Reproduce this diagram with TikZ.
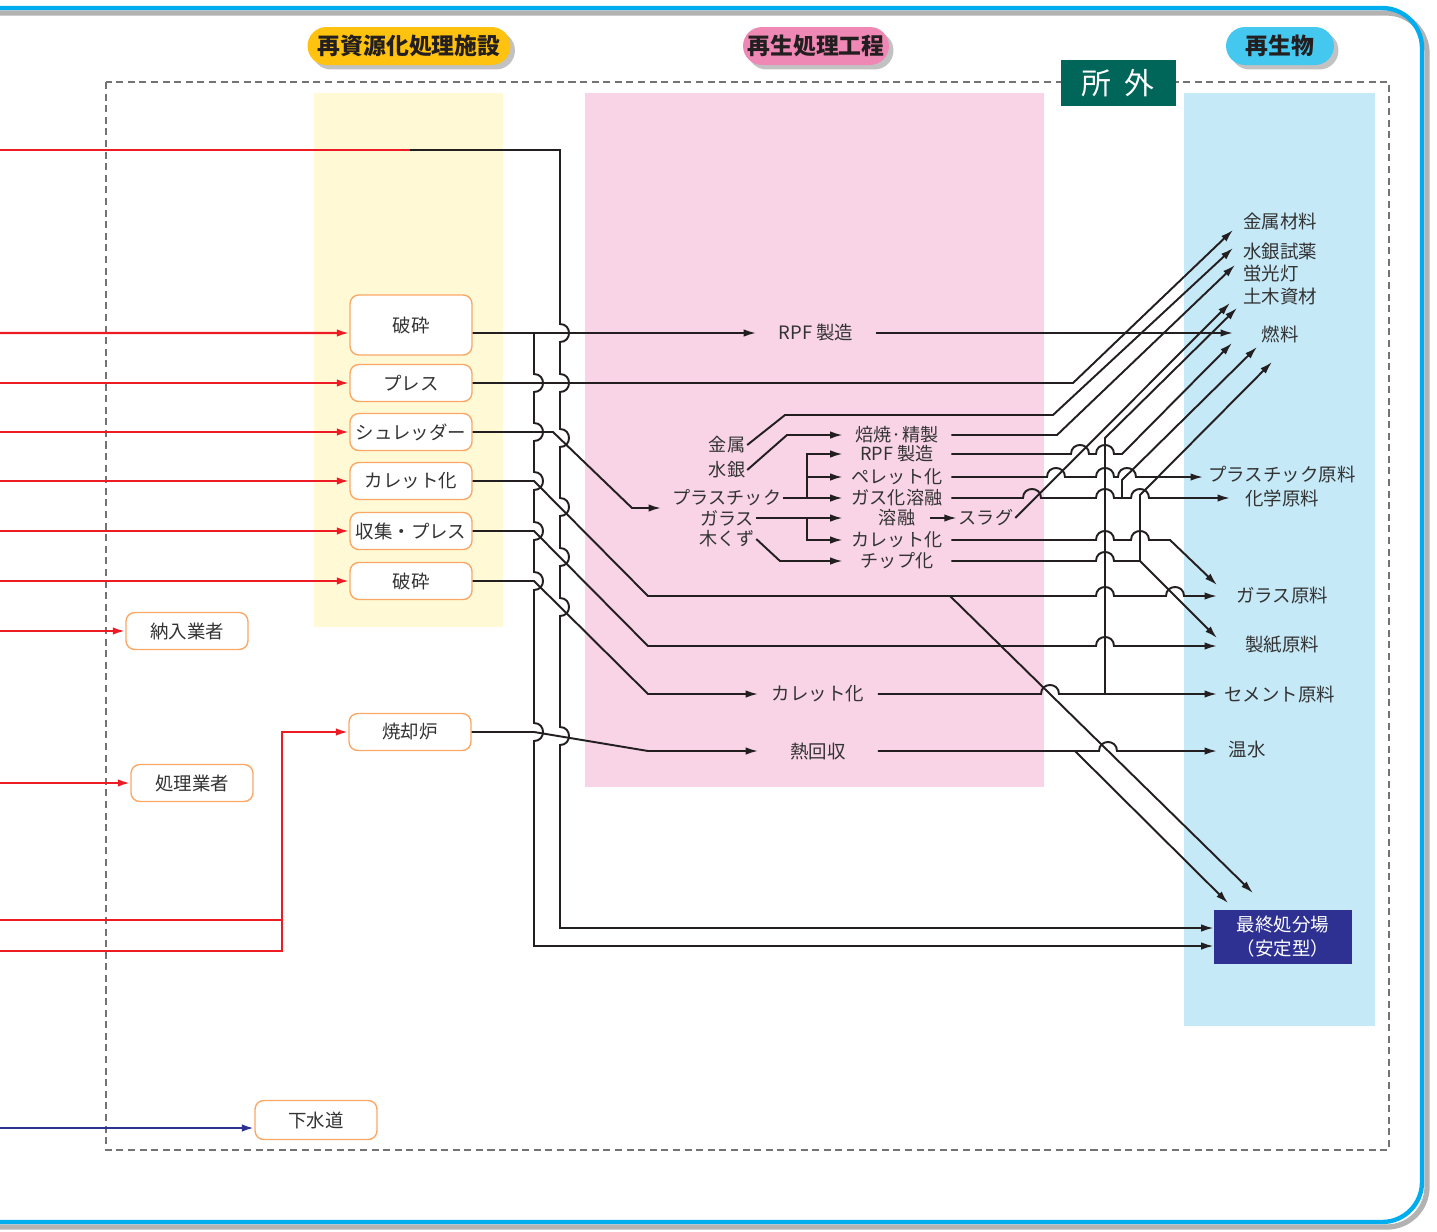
\documentclass[tikz,border=0pt]{standalone}
\usepackage{fontspec}
\setmainfont{Noto Sans CJK JP}
\usetikzlibrary{arrows.meta,shapes.misc,shadows}
\definecolor{inkblk}{HTML}{231F20}
\definecolor{txtgrey}{HTML}{333333}
\definecolor{redln}{HTML}{ED1C24}
\definecolor{navyln}{HTML}{2E3192}
\definecolor{boxorange}{HTML}{F9A866}
\definecolor{paleyellow}{HTML}{FFF9D6}
\definecolor{palepink}{HTML}{F8D4E6}
\definecolor{paleblue}{HTML}{C6E9F8}
\definecolor{pillyellow}{HTML}{FFC20E}
\definecolor{pillpink}{HTML}{F088B5}
\definecolor{pillcyan}{HTML}{45C8F0}
\definecolor{framecyan}{HTML}{00AEEF}
\definecolor{darkteal}{HTML}{00665A}
\newcommand{\vjmp}[2]{-- (#1,#2-9) .. controls (#1+12,#2-9) and (#1+12,#2+9) .. (#1,#2+9)}
\newcommand{\hjmp}[2]{-- (#1-9,#2) .. controls (#1-9,#2-12) and (#1+9,#2-12) .. (#1+9,#2)}

\begin{document}
\begin{tikzpicture}[x=0.02cm,y=-0.02cm,
  flow/.style={draw=inkblk, line width=1.1pt},
  flowarr/.style={flow, -{Latex[length=2.5mm,width=1.5mm]}},
  redflow/.style={draw=redln, line width=1.3pt},
  redarr/.style={redflow, -{Latex[length=2.5mm,width=1.5mm]}},
  srcbox/.style={rectangle, draw=boxorange, line width=0.8pt, rounded corners=5pt, fill=white, minimum width=2.44cm, minimum height=0.74cm, inner sep=1pt, font=\fontsize{10.5}{12}\selectfont, text=txtgrey},
  steplbl/.style={inner sep=0pt, minimum width=2.38cm, font=\fontsize{10.5}{12}\selectfont, text=txtgrey},
  midlbl/.style={inner sep=0pt, minimum width=2.16cm, font=\fontsize{10.3}{12}\selectfont, text=txtgrey},
  srclbl/.style={inner sep=1pt, font=\fontsize{10.3}{12}\selectfont, text=txtgrey},
  outlbl/.style={inner sep=1pt, font=\fontsize{10.5}{12}\selectfont, text=txtgrey},
  pill/.style={rounded rectangle, minimum height=0.76cm, inner sep=2pt, font=\fontsize{13}{15}\selectfont\bfseries, text=inkblk, drop shadow={shadow xshift=0.09cm, shadow yshift=-0.09cm, fill=black!40, opacity=0.6}}]
\useasboundingbox (0,0) rectangle (1437,1231);

% outer frame
\draw[line width=3pt, draw=black!30, xshift=0.1cm, yshift=-0.1cm, rounded corners=0.8cm] (-20,8) -- (1422,8) -- (1422,1222) -- (-20,1222);
\draw[line width=2.5pt, draw=framecyan, rounded corners=0.8cm] (-20,8) -- (1422,8) -- (1422,1222) -- (-20,1222);

% panels
\fill[paleyellow] (314,93) rectangle (503,627);
\fill[palepink] (585,93) rectangle (1044,787);
\fill[paleblue] (1184,93) rectangle (1375,1026);
\draw[black!55, line width=0.9pt, dash pattern=on 4pt off 2.6pt] (106,82) rectangle (1389,1150);

% titles
\node[pill, fill=pillyellow, minimum width=4.2cm] (ttlfacility) at (409,46) {再資源化処理施設};
\node[pill, fill=pillpink, minimum width=3.06cm] (ttlprocess) at (816,46) {再生処理工程};
\node[pill, fill=pillcyan, minimum width=2.3cm] (ttlproduct) at (1280,46) {再生物};
\node[fill=darkteal, text=white, minimum width=2.3cm, minimum height=0.92cm, font=\fontsize{17}{20}\selectfont] (offsite) at (1118,83) {所\hspace{0.45em}外};

% boxes
\node[srcbox, minimum height=1.2cm] (crushA) at (411,325) {破砕};
\node[srcbox] (press) at (411,383) {プレス};
\node[srcbox] (shredder) at (411,432) {シュレッダー};
\node[srcbox] (culletA) at (411,481) {カレット化};
\node[srcbox] (collect) at (411,531) {収集・プレス};
\node[srcbox] (crushB) at (411,581) {破砕};
\node[srcbox] (supplier) at (187,631) {納入業者};
\node[srcbox] (kiln) at (410,732) {焼却炉};
\node[srcbox] (handler) at (192,783) {処理業者};
\node[srcbox, minimum height=0.78cm] (sewer) at (316,1120) {下水道};

\node[steplbl] (rpfA) at (816,333) {RPF 製造};
\node[steplbl] (culletB) at (818,694) {カレット化};
\node[steplbl] (heat) at (818,751) {熱回収};

\node[srclbl] (metal) at (727,445) {金属};
\node[srclbl] (mercury) at (727,470) {水銀};
\node[srclbl] (plastic) at (727,498) {プラスチック};
\node[srclbl] (glass) at (727,518) {ガラス};
\node[srclbl] (wood) at (727,539) {木くず};

\node[midlbl] (roast) at (897,435) {焙焼·精製};
\node[midlbl] (rpfB) at (897,454) {RPF 製造};
\node[midlbl] (pellet) at (897,477) {ペレット化};
\node[midlbl] (gasify) at (897,498) {ガス化溶融};
\node[midlbl] (melt) at (897,518) {溶融};
\node[srclbl] (slag) at (986,518) {スラグ};
\node[midlbl] (culletC) at (897,540) {カレット化};
\node[midlbl] (chip) at (897,561) {チップ化};

\node[outlbl, anchor=west] (metalmat) at (1241,221) {金属材料};
\node[outlbl, anchor=west] (hgreagent) at (1241,252) {水銀試薬};
\node[outlbl, anchor=west] (fluor) at (1241,274) {蛍光灯};
\node[outlbl, anchor=west] (civil) at (1241,297) {土木資材};
\node[outlbl] (fuel) at (1280,334) {燃料};
\node[outlbl] (plasraw) at (1282,474) {プラスチック原料};
\node[outlbl] (chemraw) at (1282,498) {化学原料};
\node[outlbl] (glassraw) at (1282,595) {ガラス原料};
\node[outlbl] (paperraw) at (1282,645) {製紙原料};
\node[outlbl] (cemraw) at (1280,694) {セメント原料};
\node[outlbl] (hotwater) at (1247,750) {温水};
\node[fill=navyln, text=white, minimum width=2.76cm, minimum height=1.08cm, align=center, inner sep=1pt, font=\fontsize{10.5}{13.6}\selectfont] (final) at (1283,937) {最終処分場\\（安定型）};

% free ends
\coordinate (topjoin) at (410,150);
\coordinate (tsort) at (661,508);
\coordinate (tmetal) at (1233,230);
\coordinate (thg) at (1233,248);
\coordinate (tfluor) at (1235,265);
\coordinate (tcivilA) at (1230,303);
\coordinate (tcivilB) at (1237,308);
\coordinate (tfuelH) at (1233,333);
\coordinate (tfuelA) at (1232,343);
\coordinate (tfuelB) at (1257,347);
\coordinate (tfuelC) at (1272,362);
\coordinate (tplastic) at (1203,477);
\coordinate (tchem) at (1230,498);
\coordinate (tglassA) at (1217,596);
\coordinate (tglassB) at (1217,585);
\coordinate (tpaperA) at (1217,646);
\coordinate (tpaperB) at (1217,638);
\coordinate (tcement) at (1217,694);
\coordinate (twater) at (1217,751);
\coordinate (tlandA) at (1253,893);
\coordinate (tlandB) at (1228,903);

% inputs
\draw[redflow] (0,150) -- (topjoin);
\draw[redarr] (0,333) -- ([yshift=-0.16cm]crushA.west);
\draw[redarr] (0,383) -- (press.west);
\draw[redarr] (0,432) -- (shredder.west);
\draw[redarr] (0,481) -- (culletA.west);
\draw[redarr] (0,531) -- (collect.west);
\draw[redarr] (0,581) -- (crushB.west);
\draw[redarr] (0,631) -- (supplier.west);
\draw[redarr] (0,783) -- (handler.west);
\draw[redflow] (0,920) -- (282,920);
\draw[redarr] (0,951) -- (282,951) -- (282,732) -- (kiln.west);
\draw[draw=navyln, line width=1.3pt, -{Latex[length=2.5mm,width=1.5mm]}] (0,1128) -- (sewer.west |- 0,1128);

% facility outputs
\draw[flowarr] (topjoin) -- (560,150) \vjmp{560}{333} \vjmp{560}{383} \vjmp{560}{438} \vjmp{560}{507} \vjmp{560}{557} \vjmp{560}{607} \vjmp{560}{736} -- (560,928) -- (final.west |- 0,928);
\draw[flowarr] (534,333) \vjmp{534}{383} \vjmp{534}{432} \vjmp{534}{481} \vjmp{534}{531} \vjmp{534}{581} \vjmp{534}{732} -- (534,946) -- (final.west |- 0,946);
\draw[flowarr] ([yshift=-0.16cm]crushA.east) -- (rpfA.west);
\draw[flowarr] (rpfA.east) -- (tfuelH);
\draw[flowarr] (press.east) -- (1073,383) -- (tmetal);
\draw[flowarr] (shredder.east) -- (553,432) -- (632,508) -- (tsort);
\draw[flowarr] (culletA.east) -- (534,481) -- (648,596) \hjmp{1105}{596} \hjmp{1175}{596} -- (tglassA);
\draw[flowarr] (collect.east) -- (534,531) -- (648,646) \hjmp{1105}{646} -- (tpaperA);
\draw[flowarr] (crushB.east) -- (534,581) -- (648,694) -- (culletB.west);
\draw[flowarr] (kiln.east) -- (534,732) -- (648,751) -- (heat.west);

% sorting group
\draw[flowarr] (metal.east) -- (785,415) -- (1053,415) -- (thg);
\draw[flowarr] (mercury.east) -- (787,435) -- (roast.west);
\draw[flowarr] (roast.east) -- (1057,435) -- (tfluor);
\draw[flow] (plastic.east) -- (807,498);
\draw[flowarr] (807,498) -- (gasify.west);
\draw[flowarr] (807,498) |- (rpfB.west);
\draw[flowarr] (807,477) -- (pellet.west);
\draw[flowarr] (glass.east) -- (melt.west);
\draw[flowarr] (807,518) |- (culletC.west);
\draw[flowarr] (wood.east) -- (780,561) -- (chip.west);
\draw[flowarr] ([xshift=-0.42cm]melt.east) -- (slag.west);

% to products
\draw[flowarr] (rpfB.east) \hjmp{1080}{454} \hjmp{1105}{454} -- (1122,454) -- (tfuelA);
\draw[flowarr] (pellet.east) \hjmp{1056}{477} \hjmp{1105}{477} \hjmp{1127}{477} -- (tplastic);
\draw[flowarr] (gasify.east) \hjmp{1032}{498} \hjmp{1105}{498} -- (1122,498) \hjmp{1140}{498} -- (tchem);
\draw[flowarr] (1122,498) -- (1122,480) -- (tfuelB);
\draw[flowarr] (slag.east) -- (tcivilA);
\draw[flowarr] (culletC.east) \hjmp{1105}{540} \hjmp{1140}{540} -- (1170,540) -- (tglassB);
\draw[flowarr] (chip.east) \hjmp{1105}{561} -- (1140,561) -- (tpaperB);
\draw[flowarr] (1140,561) -- (1140,495) -- (tfuelC);
\draw[flowarr] (culletB.east) \hjmp{1050}{694} -- (tcement);
\draw[flowarr] (1105,694) -- (1105,438) -- (tcivilB);
\draw[flowarr] (heat.east) \hjmp{1108}{751} -- (twater);
\draw[flowarr] (1075,751) -- (tlandB);
\draw[flowarr] (950,596) -- (tlandA);
\end{tikzpicture}
\end{document}
